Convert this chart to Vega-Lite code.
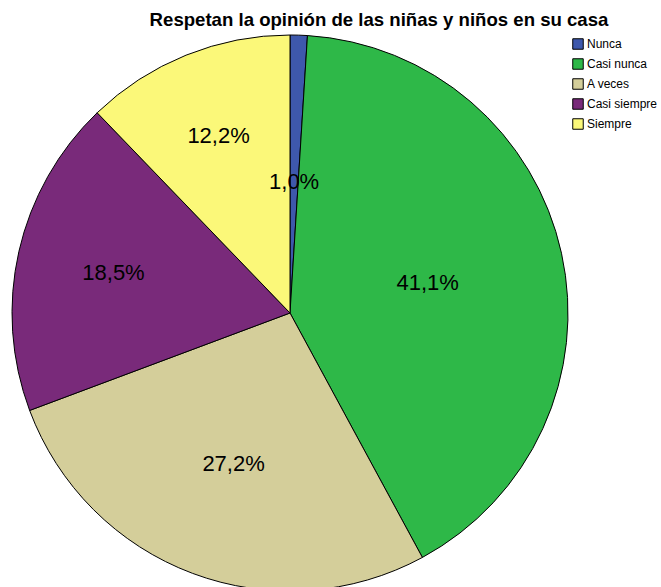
{
  "$schema": "https://vega.github.io/schema/vega-lite/v6.json",
  "autosize": "none",
  "width": 580,
  "height": 556,
  "padding": {"left": 0, "top": 35, "right": 81, "bottom": 0},
  "background": "white",
  "title": {
    "text": "Respetan la opinión de las niñas y niños en su casa",
    "font": "Liberation Sans",
    "fontSize": 18.6,
    "fontWeight": "bold",
    "color": "black",
    "anchor": "middle",
    "dx": 89,
    "offset": 3
  },
  "data": {
    "values": [
      {"categoria": "Nunca", "porcentaje": 1.0, "etiqueta": "1,0%", "orden": 1},
      {"categoria": "Casi nunca", "porcentaje": 41.1, "etiqueta": "41,1%", "orden": 2},
      {"categoria": "A veces", "porcentaje": 27.2, "etiqueta": "27,2%", "orden": 3},
      {"categoria": "Casi siempre", "porcentaje": 18.5, "etiqueta": "18,5%", "orden": 4},
      {"categoria": "Siempre", "porcentaje": 12.2, "etiqueta": "12,2%", "orden": 5}
    ]
  },
  "transform": [
    {"stack": "porcentaje", "groupby": [], "sort": [{"field": "orden", "order": "ascending"}], "as": ["p0", "p1"]},
    {"calculate": "(datum.p0 + datum.p1) / 2", "as": "pmid"}
  ],
  "layer": [
    {
      "mark": {"type": "arc", "outerRadius": 278, "stroke": "black", "strokeWidth": 1},
      "encoding": {
        "theta": {"field": "p0", "type": "quantitative", "scale": {"domain": [0, 100]}},
        "theta2": {"field": "p1"},
        "color": {
          "field": "categoria",
          "type": "nominal",
          "sort": ["Nunca", "Casi nunca", "A veces", "Casi siempre", "Siempre"],
          "scale": {
            "domain": ["Nunca", "Casi nunca", "A veces", "Casi siempre", "Siempre"],
            "range": ["#3E58AC", "#2EB848", "#D4CE9A", "#792A7A", "#FBF879"]
          },
          "legend": {
            "title": null,
            "orient": "none",
            "legendX": 572,
            "legendY": 3,
            "symbolType": "square",
            "symbolSize": 110,
            "symbolStrokeColor": "black",
            "symbolStrokeWidth": 1,
            "symbolOpacity": 1,
            "labelFont": "Liberation Sans",
            "labelFontSize": 12,
            "labelColor": "black",
            "labelOffset": 3,
            "rowPadding": 4
          }
        }
      }
    },
    {
      "mark": {
        "type": "text",
        "fontSize": 22,
        "font": "Liberation Sans",
        "color": "black",
        "align": "center",
        "baseline": "middle"
      },
      "encoding": {
        "theta": {"field": "pmid", "type": "quantitative", "scale": {"domain": [0, 100]}},
        "text": {"field": "etiqueta", "type": "nominal"},
        "radius": {
          "field": "orden",
          "type": "quantitative",
          "scale": {"type": "linear", "zero": false, "domain": [1, 2, 3, 4, 5], "range": [131, 141, 161, 181, 191]},
          "legend": null
        }
      }
    }
  ],
  "config": {"view": {"stroke": null}}
}
